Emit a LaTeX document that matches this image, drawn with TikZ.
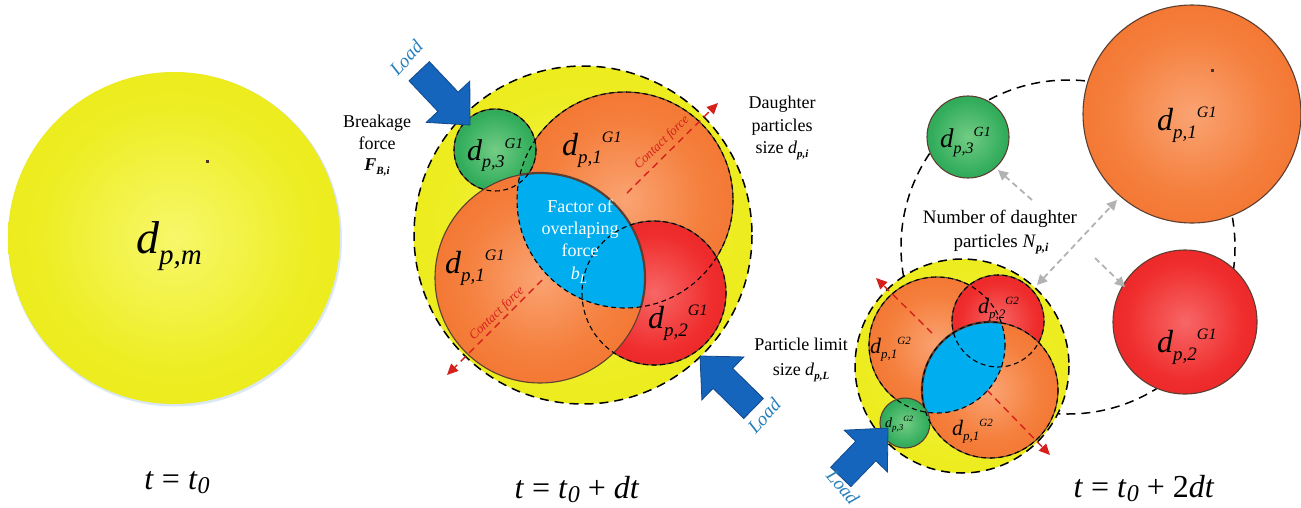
\documentclass[tikz,border=0pt]{standalone}
\usepackage{fontspec}
\setmainfont{Liberation Serif}
\usetikzlibrary{arrows.meta}
\definecolor{outl}{RGB}{92,62,50}
\definecolor{cblue}{RGB}{0,174,239}
\definecolor{cred}{RGB}{214,32,28}
\definecolor{loadfill}{RGB}{21,101,189}
\definecolor{loaddraw}{RGB}{18,72,140}
\definecolor{loadtext}{RGB}{38,128,188}
\definecolor{garr}{RGB}{178,178,178}
\definecolor{shadowc}{RGB}{218,232,246}
\definecolor{dotc}{RGB}{70,50,40}
\pgfdeclareradialshading{shY}{\pgfpoint{0bp}{0bp}}{rgb(0bp)=(0.97,0.97,0.42); rgb(20bp)=(0.93,0.93,0.14); rgb(50bp)=(0.89,0.89,0.0); rgb(75bp)=(0.89,0.89,0.0)}
\pgfdeclareradialshading{shO}{\pgfpoint{0bp}{0bp}}{rgb(0bp)=(0.98,0.64,0.45); rgb(18bp)=(0.96,0.50,0.24); rgb(40bp)=(0.94,0.41,0.13); rgb(75bp)=(0.94,0.40,0.12)}
\pgfdeclareradialshading{shR}{\pgfpoint{0bp}{0bp}}{rgb(0bp)=(0.97,0.40,0.40); rgb(20bp)=(0.94,0.18,0.18); rgb(45bp)=(0.89,0.08,0.10); rgb(75bp)=(0.89,0.08,0.10)}
\pgfdeclareradialshading{shG}{\pgfpoint{0bp}{0bp}}{rgb(0bp)=(0.45,0.80,0.52); rgb(22bp)=(0.20,0.68,0.36); rgb(50bp)=(0.09,0.58,0.28); rgb(75bp)=(0.09,0.58,0.28)}
% particle label: main size, sub size, sup size, sub text, sup text
\newcommand\plab[5]{{\fontsize{#1}{#1}\selectfont\itshape d\raisebox{-0.25em}{\fontsize{#2}{#2}\selectfont #4}\raisebox{0.38em}{\fontsize{#3}{#3}\selectfont #5}}}
\newcommand\bsub[3]{\textit{#1}\raisebox{-0.25em}{\fontsize{#3}{#3}\selectfont\bfseries\itshape #2}}
\newcommand\tsub[1]{\raisebox{-0.15em}{\fontsize{24}{24}\selectfont\itshape #1}}
\newcommand\loadarrow[3]{%
  \begin{scope}[shift={(#1)}, rotate=#2]
    \filldraw[fill=loadfill, draw=loaddraw, line width=0.8pt]
      (0,0) -- (-32,30) -- (-32,14) -- (-#3,14) -- (-#3,-14) -- (-32,-14) -- (-32,-30) -- cycle;
  \end{scope}}
\begin{document}
\begin{tikzpicture}[x=1pt, y=-1pt,
  lbl/.style={inner sep=0pt, anchor=base west},
  txt/.style={inner sep=0pt, anchor=base, font=\fontsize{18}{22}\selectfont},
  wtxt/.style={txt, text=white},
  ttl/.style={inner sep=0pt, anchor=base, font=\fontsize{32}{32}\selectfont},
  loadlbl/.style={inner sep=0pt, text=loadtext, font=\fontsize{19}{19}\selectfont\itshape},
  ctxt/.style={inner sep=0pt, text=cred, font=\fontsize{13}{13}\selectfont\itshape},
  partline/.style={draw=outl, line width=1.1pt},
  hid/.style={draw=black, line width=1.1pt, dash pattern=on 5pt off 3.5pt},
  motherdash/.style={draw=black, line width=1.5pt, dash pattern=on 9pt off 6pt},
  contact/.style={draw=cred, line width=1.4pt, dash pattern=on 7pt off 5pt, -{Triangle[length=11pt,width=10pt]}},
  garrow/.style={draw=garr, line width=1.8pt, dash pattern=on 6pt off 4pt, -{Triangle[length=10pt,width=10pt]}},
  garrow2/.style={garrow, {Triangle[length=10pt,width=10pt]}-{Triangle[length=10pt,width=10pt]}}
]
\useasboundingbox (0,0) rectangle (1301,507);
\fill[white] (0,0) rectangle (1301,507);

% ================= LEFT: t = t0 =================
\coordinate (L) at (174,238);
\fill[shadowc] (175,239.5) circle (167);
\path[shading=shY] (L) circle (166);
\fill[dotc] (205.5,159.5) rectangle (208.5,162.5);
\node[lbl] (dpm) at (136,253) {\plab{46}{29}{10}{p,m}{}};
\node[ttl] (t0) at (177,489) {\textit{t} = \textit{t}\tsub{0}};

% ================= MIDDLE: t = t0 + dt =================
\coordinate (M) at (583,235);
\coordinate (MA) at (625,200);
\coordinate (MB) at (540,278);
\coordinate (MR) at (654,293);
\coordinate (MG) at (495,150);
\path[shading=shY] (M) circle (169);
\shadedraw[shading=shO, partline] (MA) circle (108);
\shadedraw[shading=shR, partline] (MR) circle (72);
\shadedraw[shading=shG, partline] (MG) circle (41);
\shadedraw[shading=shO, partline] (MB) circle (105);
\begin{scope}
  \clip (MA) circle (108);
  \fill[cblue] (MB) circle (105);
  \draw[draw=outl, line width=2.2pt] (MB) circle (105);
\end{scope}
\draw[hid] (MA) circle (108);
\draw[hid] (MR) circle (72);
\draw[hid] (MG) circle (41);
\draw[motherdash] (M) circle (169);

\node[lbl] (mg) at (467,160) {\plab{30}{18}{15}{p,3}{G1}};
\node[lbl] (ma) at (562,155) {\plab{32}{19}{16}{p,1}{G1}};
\node[lbl] (mb) at (445,273) {\plab{32}{19}{16}{p,1}{G1}};
\node[lbl] (mr) at (648,328) {\plab{32}{19}{16}{p,2}{G1}};

\node[wtxt] (f1) at (580,212) {Factor of};
\node[wtxt] (f2) at (580,234) {overlaping};
\node[wtxt] (f3) at (580,256) {force};
\node[wtxt] (f4) at (579,279) {\textit{b}\raisebox{-0.25em}{\fontsize{13}{13}\selectfont\itshape L}};

\coordinate (c1s) at (627,193);
\coordinate (c1e) at (718,103);
\coordinate (c2s) at (542,280);
\coordinate (c2e) at (447,375);
\draw[contact] (c1s) -- (c1e);
\draw[contact] (c2s) -- (c2e);
\node[ctxt, rotate=44] (ct1) at (662,143) {Contact force};
\node[ctxt, rotate=44] (ct2) at (497,314) {Contact force};

\coordinate (ldA) at (470,125);
\loadarrow{ldA}{-46.6}{74}
\node[loadlbl, rotate=48] (ltA) at (406,58) {Load};
\coordinate (ldB) at (700,356);
\loadarrow{ldB}{135.6}{75}
\node[loadlbl, rotate=48] (ltB) at (764,416) {Load};

\node[txt] (bk1) at (377,127) {Breakage};
\node[txt] (bk2) at (377,149) {force};
\node[txt] (bk3) at (377,170) {\bfseries\bsub{F}{B,i}{11}};

\node[txt] (dg1) at (782,108) {Daughter};
\node[txt] (dg2) at (782,131) {particles};
\node[txt] (dg3) at (782,153) {size \bsub{d}{p,i}{11}};

\node[txt] (pl1) at (801,350) {Particle limit};
\node[txt] (pl2) at (801,375) {size \bsub{d}{p,L}{11}};

\node[ttl] (t1) at (577,498) {\textit{t} = \textit{t}\tsub{0} + \textit{dt}};

% ================= RIGHT: t = t0 + 2dt =================
\coordinate (R) at (1068,247);
\draw[motherdash] (R) circle (167);

\coordinate (RO) at (1192,114);
\coordinate (RG) at (968,137);
\coordinate (RR) at (1185,322);
\shadedraw[shading=shO, partline] (RO) circle (109);
\shadedraw[shading=shG, partline] (RG) circle (41);
\shadedraw[shading=shR, partline] (RR) circle (72);
\fill[dotc] (1211,69) rectangle (1213.5,71.5);

\coordinate (S) at (962,366);
\coordinate (SA) at (937,345);
\coordinate (SR) at (998,321);
\coordinate (SB) at (990,390);
\coordinate (SG) at (905,423);
\path[shading=shY] (S) circle (107);
\shadedraw[shading=shO, partline] (SA) circle (68);
\shadedraw[shading=shR, partline] (SR) circle (46);
\shadedraw[shading=shO, partline] (SB) circle (68);
\begin{scope}
  \clip (SA) circle (68);
  \fill[cblue] (SB) circle (68);
  \draw[draw=outl, line width=2.2pt] (SB) circle (68);
\end{scope}
\shadedraw[shading=shG, partline] (SG) circle (25);
\draw[hid] (SA) circle (68);
\draw[hid] (SR) circle (46);
\draw[hid] (SB) circle (68);
\draw[motherdash] (S) circle (107);

\node[lbl] (ro) at (1157,130) {\plab{32}{19}{16}{p,1}{G1}};
\node[lbl] (rg) at (940,147) {\plab{27}{16}{14}{p,3}{G1}};
\node[lbl] (rr) at (1157,352) {\plab{32}{19}{16}{p,2}{G1}};
\node[lbl] (sa) at (870,353) {\plab{22}{13}{11}{p,1}{G2}};
\node[lbl] (sb) at (952,435) {\plab{22}{13}{11}{p,1}{G2}};
\node[lbl] (sr) at (978,313) {\plab{22}{13}{11}{p,2}{G2}};
\node[lbl] (sg) at (885,427) {\plab{14}{9}{8}{p,3}{G2}};

\coordinate (c3s) at (932,333);
\coordinate (c3e) at (876,278);
\coordinate (c4s) at (987,390);
\coordinate (c4e) at (1050,455);
\draw[contact] (c3s) -- (c3e);
\draw[contact] (c4s) -- (c4e);

\coordinate (ldC) at (888,428);
\loadarrow{ldC}{46}{68}
\node[loadlbl, rotate=-50] (ltC) at (843,487) {Load};

\node[txt, font=\fontsize{19}{22}\selectfont] (nd1) at (1000,223) {Number of daughter};
\node[txt, font=\fontsize{19}{22}\selectfont] (nd2) at (1001,247) {particles \bsub{N}{p,i}{12}};

\coordinate (g1s) at (1032,200);
\coordinate (g1e) at (998,170);
\coordinate (g2s) at (1037,285);
\coordinate (g2e) at (1117,200);
\coordinate (g3s) at (1095,258);
\coordinate (g3e) at (1125,287);
\draw[garrow] (g1s) -- (g1e);
\draw[garrow2] (g2s) -- (g2e);
\draw[garrow] (g3s) -- (g3e);

\node[ttl] (t2) at (1144,497) {\textit{t} = \textit{t}\tsub{0} + 2\textit{dt}};
\end{tikzpicture}
\end{document}
